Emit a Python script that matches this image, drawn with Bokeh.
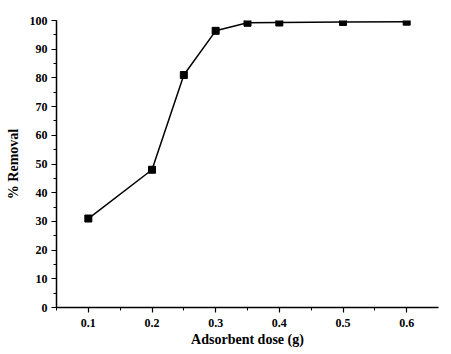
from bokeh.plotting import figure
from bokeh.models import Range1d, SingleIntervalTicker
from bokeh.embed import file_html
from bokeh.resources import INLINE

dose = [0.1, 0.2, 0.25, 0.3, 0.35, 0.4, 0.5, 0.6]
removal = [31.0, 48.0, 81.0, 96.4, 99.2, 99.3, 99.5, 99.6]

p = figure(width=451, height=354, output_backend="svg", toolbar_location=None,
           x_range=Range1d(0.05, 0.65), y_range=Range1d(0, 100),
           min_border_left=56, min_border_right=13, min_border_top=20, min_border_bottom=47)
p.outline_line_color = None
p.xgrid.visible = False
p.ygrid.visible = False
p.background_fill_color = "white"
p.border_fill_color = "white"

p.line(dose, removal, line_color="black", line_width=1.5)
p.scatter(dose, removal, marker="square", size=7, fill_color="black", line_color="black")

font = "Liberation Serif"
for ax in (p.xaxis[0], p.yaxis[0]):
    ax.axis_line_width = 1.5
    ax.axis_line_color = "black"
    ax.major_tick_line_color = "black"
    ax.minor_tick_line_color = "black"
    ax.major_tick_line_width = 1.2
    ax.minor_tick_line_width = 1.0
    ax.major_tick_in = 0
    ax.major_tick_out = 5
    ax.minor_tick_in = 0
    ax.minor_tick_out = 3
    ax.major_label_text_font = font
    ax.major_label_text_font_style = "bold"
    ax.major_label_text_font_size = "12px"
    ax.major_label_text_color = "black"
    ax.axis_label_text_font = font
    ax.axis_label_text_font_style = "bold"
    ax.axis_label_text_font_size = "14px"
    ax.axis_label_text_color = "black"

p.xaxis.ticker = SingleIntervalTicker(interval=0.1, num_minor_ticks=2)
p.yaxis.ticker = SingleIntervalTicker(interval=10, num_minor_ticks=2)
p.xaxis.axis_label = "Adsorbent dose (g)"
p.yaxis.axis_label = "% Removal"
p.xaxis.axis_label_standoff = 2
p.yaxis.axis_label_standoff = 6
p.xaxis.major_label_standoff = 6
p.yaxis.major_label_standoff = 4

open("out.html", "w").write(file_html(p, INLINE))
